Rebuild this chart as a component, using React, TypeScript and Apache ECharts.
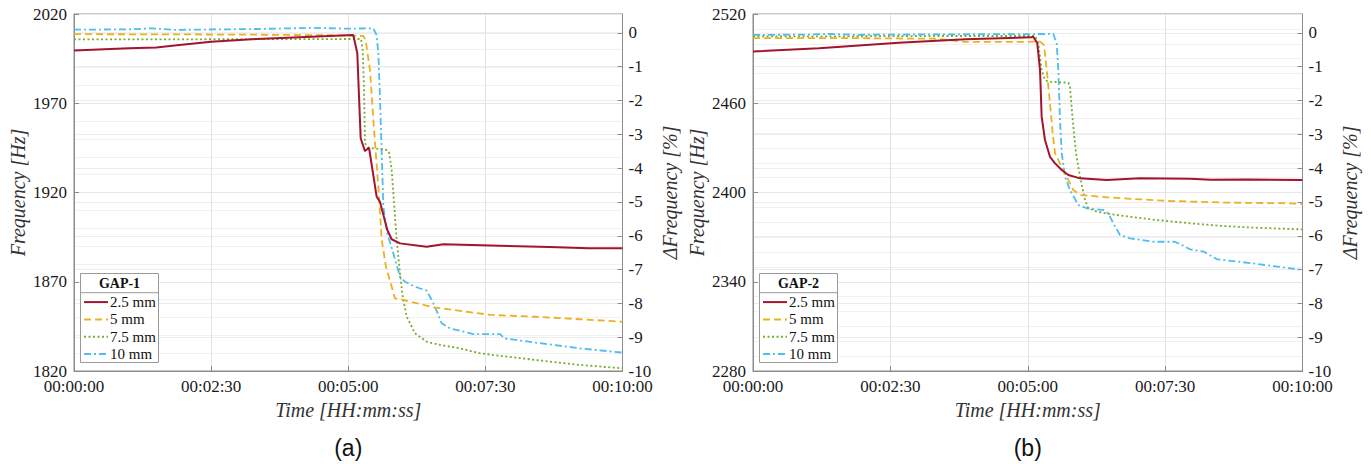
import React, { useEffect, useRef } from "react";
import * as echarts from "echarts";

// ---------- DATA ----------
const seriesNames = ["2.5 mm", "5 mm", "7.5 mm", "10 mm"];
const seriesColors = ["#A2142F", "#EDB120", "#77AC30", "#4DBEEE"];
const gapTitles = ["GAP-1", "GAP-2"];
const captions = ["(a)", "(b)"];

// GAP-1 : [time s, frequency Hz]
const gap1_25: number[][] = [
  [0, 1999.5], [60, 2000.8], [90, 2001.2], [110, 2002.4], [150, 2004.4], [200, 2006], [260, 2007.3],
  [305.5, 2008.2], [309.9, 1998.0], [313.6, 1950.4], [318.3, 1943.2], [322.7, 1945.1], [331.1, 1917.6],
  [334.7, 1914.8], [342.7, 1899.0], [347.5, 1893.8], [356.6, 1891.5], [385.8, 1889.6], [404, 1891.0],
  [466, 1890.2], [520, 1889.5], [563, 1888.8], [600, 1888.8],
];
const gap1_5: number[][] = [
  [0, 2008.7], [100, 2008.6], [200, 2008.4], [280, 2008.1], [316.5, 2007.7], [319, 2005.4], [323.8, 1988.6],
  [328.2, 1955], [332.9, 1923.3], [336.6, 1893.4], [341.3, 1878.4], [351.1, 1860.7], [360.2, 1859.8],
  [393, 1855.7], [429.6, 1853.2], [456, 1851.4], [505, 1850.4], [553.6, 1849], [600, 1847.6],
];
const gap1_75: number[][] = [
  [0, 2005.8], [100, 2005.8], [200, 2005.9], [314, 2006], [315.8, 1999.8], [317.2, 1979.3], [318.3, 1947.6],
  [322, 1945.1], [342.7, 1943.8], [344.9, 1942], [347.5, 1932.6], [350.4, 1912], [353, 1893.4],
  [356.6, 1874.7], [359.6, 1861.6], [364, 1850.4], [373, 1841.1], [385.8, 1836.4], [400.4, 1834.6],
  [422.3, 1832.7], [444.2, 1829.9], [466, 1828.5], [505, 1826.2], [553.6, 1823.4], [600, 1821.5],
];
const gap1_10: number[][] = [
  [0, 2011.2], [60, 2011.4], [85, 2012], [110, 2011.1], [200, 2011.6], [260, 2012.2], [300, 2011.8],
  [327.4, 2012], [331, 2008.2], [332.9, 1998], [334.7, 1973.7], [336.6, 1942], [338.4, 1912],
  [342.7, 1897.1], [349.3, 1885.9], [356.6, 1872.8], [362.1, 1870], [373, 1867.2], [385.8, 1865],
  [389.4, 1861.6], [394.9, 1856], [402.2, 1846.7], [411.3, 1843.9], [436.8, 1840.7], [466, 1840.7],
  [470.6, 1838.3], [505, 1835.9], [553.6, 1832.7], [600, 1830.3],
];

// GAP-2 : [time s, frequency Hz]
const gap2_25: number[][] = [
  [0, 2494.8], [72, 2496.9], [159, 2500.7], [232, 2503], [304, 2504.3], [306.1, 2504.7], [310.4, 2500.3],
  [313.4, 2482.4], [315.2, 2451], [318.8, 2435.3], [324.3, 2424], [329.8, 2419.6], [337.1, 2415.1],
  [344.3, 2411.8], [357.1, 2409.5], [386.2, 2408.4], [422.6, 2409.5], [477.2, 2409.3], [500, 2408.5],
  [540, 2408.8], [600, 2408.4],
];
const gap2_5: number[][] = [
  [0, 2503.8], [100, 2503.8], [200, 2503.4], [232, 2501.2], [280, 2501.2], [313.4, 2501.4], [317.7, 2499.2],
  [320.7, 2482.4], [324.3, 2460], [327.2, 2439.8], [329.8, 2426.4], [335.2, 2419.6], [342.5, 2410.6],
  [349.7, 2401.7], [357.1, 2398.3], [386.2, 2396.8], [422.6, 2395.4], [455.3, 2394.3], [516.5, 2393.2],
  [580, 2392.8], [600, 2392.3],
];
const gap2_75: number[][] = [
  [0, 2505], [100, 2505], [200, 2505.2], [307.9, 2505.2], [311.5, 2500.3], [315.2, 2482.4], [318.8, 2475.6],
  [322.4, 2474.5], [344.3, 2473.8], [346.1, 2471.1], [349.1, 2448.7], [352.7, 2426.4], [357.1, 2410.6],
  [362.5, 2395], [366.1, 2389.4], [375.3, 2387.1], [389.8, 2385.5], [411.7, 2383.7], [440.8, 2381.5],
  [477.2, 2379.3], [511.7, 2377.5], [545.4, 2376.4], [600, 2375.2],
];
const gap2_10: number[][] = [
  [0, 2505.9], [60, 2506.2], [85, 2506.6], [110, 2506], [200, 2506.3], [300, 2506.5], [327.9, 2506.6],
  [331.6, 2500.3], [333.4, 2482.4], [335.2, 2448.7], [337.1, 2426.4], [340.7, 2410.6], [346.1, 2401.7],
  [355.2, 2391.6], [364.4, 2389.4], [382.5, 2388.2], [388, 2386], [393.4, 2379.3], [400.7, 2371.4],
  [411.7, 2369.2], [437.1, 2366.9], [460.8, 2366.9], [468.1, 2364.7], [477.2, 2361.8], [492.4, 2360.2],
  [506.8, 2355.1], [545.4, 2352.4], [600, 2347.9],
];

const gapData = [
  [gap1_25, gap1_5, gap1_75, gap1_10],
  [gap2_25, gap2_5, gap2_75, gap2_10],
];

// axis ranges
const freqMin = [1820, 2280];
const freqMax = [2020, 2520];
const freqInterval = [50, 60];
const freqMinorSplit = [5, 6];
const timeMin = 0;
const timeMax = 600;
const timeInterval = 150;
const deltaMin = -10;
const deltaMax = 0.56;

// ---------- STYLE ----------
const SERIF = "Liberation Serif";
const SANS = "Liberation Sans";
const dashTypes: any[] = ["solid", [7, 4], [2, 2.5], [7, 3, 2, 3]];
const gridsPos = [
  { left: 74, top: 14, width: 548.5, height: 357 },
  { left: 753, top: 14, width: 549.5, height: 357 },
];

const pad = (n: number) => (n < 10 ? "0" + n : "" + n);
const fmtTime = (v: number) => {
  const s = Math.round(v);
  const h = Math.floor(s / 3600);
  const m = Math.floor((s % 3600) / 60);
  return `${pad(h)}:${pad(m)}:${pad(s % 60)}`;
};

export default function App() {
  const ref = useRef<HTMLDivElement>(null);
  useEffect(() => {
    if (!ref.current) return;
    const chart = echarts.init(ref.current, undefined, { renderer: "svg" });

    const grid: any[] = [];
    const xAxis: any[] = [];
    const yAxis: any[] = [];
    const series: any[] = [];
    const legend: any[] = [];
    const graphic: any[] = [];

    const axisName = { fontFamily: SERIF, fontStyle: "italic", fontSize: 20, color: "#333" };
    const tickLabel = { fontFamily: SERIF, fontSize: 17, color: "#1a1a1a" };
    const axisLineStyle = { show: true, onZero: false, lineStyle: { color: "#8c8c8c", width: 1 } };
    const tickStyle = { show: true, inside: true, length: 5, lineStyle: { color: "#8c8c8c" } };

    gridsPos.forEach((g, i) => {
      grid.push({ ...g, show: true, borderColor: "#8c8c8c", borderWidth: 1, backgroundColor: "transparent" });
      xAxis.push({
        type: "value",
        gridIndex: i,
        min: timeMin,
        max: timeMax,
        interval: timeInterval,
        name: "Time [HH:mm:ss]",
        nameLocation: "middle",
        nameGap: 29,
        nameTextStyle: axisName,
        axisLine: axisLineStyle,
        axisTick: tickStyle,
        axisLabel: { ...tickLabel, margin: 7, formatter: fmtTime },
        splitLine: { show: true, lineStyle: { color: "#e3e3e3", width: 1 } },
      });
      yAxis.push({
        type: "value",
        gridIndex: i,
        position: "left",
        min: freqMin[i],
        max: freqMax[i],
        interval: freqInterval[i],
        name: "Frequency [Hz]",
        nameLocation: "middle",
        nameGap: 46,
        nameTextStyle: axisName,
        axisLine: axisLineStyle,
        axisTick: tickStyle,
        axisLabel: { ...tickLabel, margin: 7, formatter: (v: number) => String(Math.round(v)) },
        splitLine: { show: true, lineStyle: { color: "#e6e6e6", width: 1 } },
        minorTick: { show: false, splitNumber: freqMinorSplit[i] },
        minorSplitLine: { show: true, lineStyle: { color: "#f1f1f1", width: 1 } },
      });
      yAxis.push({
        type: "value",
        gridIndex: i,
        position: "right",
        min: deltaMin,
        max: deltaMax,
        interval: 1,
        name: "ΔFrequency [%]",
        nameLocation: "middle",
        nameGap: 37,
        nameTextStyle: axisName,
        axisLine: axisLineStyle,
        axisTick: tickStyle,
        axisLabel: {
          ...tickLabel,
          margin: 6,
          showMaxLabel: false,
          formatter: (v: number) => (Math.abs(v - Math.round(v)) < 1e-6 ? String(Math.round(v)) : ""),
        },
        splitLine: { show: true, lineStyle: { color: "#ececec", width: 1 } },
      });

      gapData[i].forEach((d, k) => {
        series.push({
          type: "line",
          name: seriesNames[k],
          xAxisIndex: i,
          yAxisIndex: i * 2,
          data: d,
          showSymbol: false,
          symbol: "none",
          z: 2 + (4 - k),
          lineStyle: { color: seriesColors[k], width: k === 0 ? 2 : 1.8, type: dashTypes[k] },
          itemStyle: { color: seriesColors[k] },
          emphasis: { disabled: true },
        });
      });

      const bx = g.left + 6.5;
      const by = 273.5;
      const bw = 78;
      const bh = 89;
      graphic.push(
        { type: "rect", z: 100, shape: { x: bx, y: by, width: bw, height: bh }, style: { fill: "#fff", stroke: "#9a9a9a", lineWidth: 1 } },
        { type: "line", z: 101, shape: { x1: bx, y1: 292.7, x2: bx + bw, y2: 292.7 }, style: { stroke: "#9a9a9a", lineWidth: 1 } },
        {
          type: "text",
          z: 101,
          x: bx + bw / 2,
          y: 283,
          style: { text: gapTitles[i], fontFamily: SERIF, fontWeight: "bold", fontSize: 14, fill: "#111", align: "center", verticalAlign: "middle" },
        },
        {
          type: "text",
          z: 101,
          x: g.left + g.width / 2,
          y: 448,
          style: { text: captions[i], fontFamily: SANS, fontSize: 23, fill: "#111", align: "center", verticalAlign: "middle" },
        }
      );
      legend.push({
        show: true,
        orient: "vertical",
        left: bx + 2.5,
        top: 293.6,
        padding: 0,
        itemGap: 0.3,
        itemWidth: 24,
        itemHeight: 17,
        z: 110,
        selectedMode: false,
        data: seriesNames,
        itemStyle: { opacity: 0 },
        textStyle: { fontFamily: SERIF, fontSize: 15, color: "#111", lineHeight: 17, padding: [0, 0, 0, -3] },
      });
    });

    chart.setOption({
      animation: false,
      backgroundColor: "#ffffff",
      grid,
      xAxis,
      yAxis,
      series,
      legend,
      graphic,
    });
    return () => chart.dispose();
  }, []);

  return (
    <div
      ref={ref}
      style={{ position: "absolute", left: 0, top: 0, width: 1371, height: 464, background: "#fff" }}
    />
  );
}
